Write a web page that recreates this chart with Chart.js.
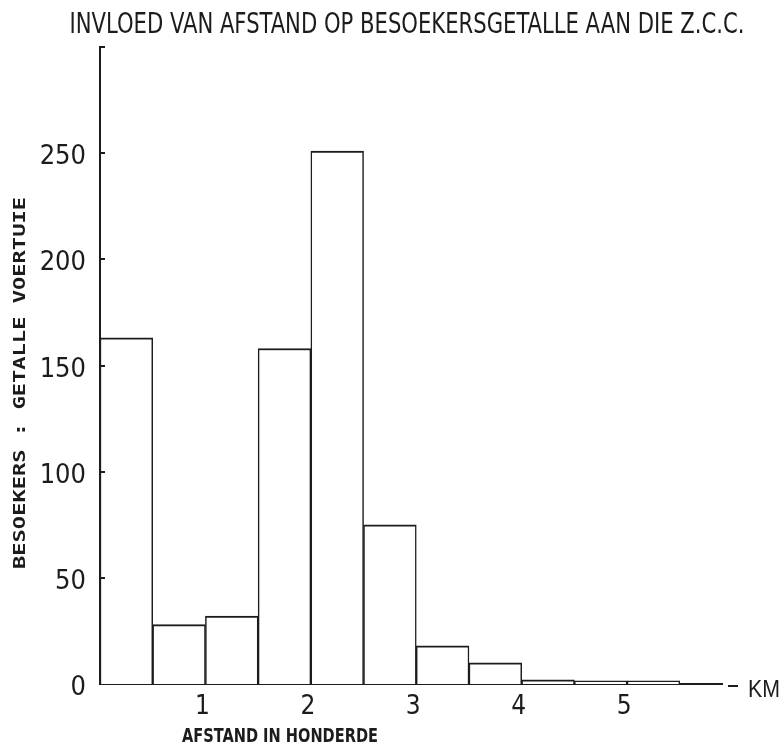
<!DOCTYPE html>
<html>
<head>
<meta charset="utf-8">
<script src="https://cdn.jsdelivr.net/npm/chart.js@4.4.1/dist/chart.umd.min.js"></script>
<style>
  html, body { margin: 0; padding: 0; background: #fff; }
  .chart-container { position: relative; width: 784px; height: 750px; }
</style>
</head>
<body>
<div class="chart-container">
  <canvas id="myChart" width="784" height="750"></canvas>
</div>
<script>
// --- DATA ---
var binStarts = [0, 0.5, 1, 1.5, 2, 2.5, 3, 3.5, 4, 4.5, 5];   // afstand, honderde km
var binWidth = 0.5;
var visitors = [163, 28, 32, 158, 251, 75, 18, 10, 2, 1.5, 1.5]; // getalle voertuie
var xTickValues = [1, 2, 3, 4, 5];
var yTickValues = [0, 50, 100, 150, 200, 250];

var titleText = 'INVLOED VAN AFSTAND OP BESOEKERSGETALLE AAN DIE Z.C.C.';
var yTitleText = 'BESOEKERS : GETALLE VOERTUIE';
var xTitleText = 'AFSTAND IN HONDERDE';
var unitText = 'KM';

var INK = '#1c1c1c';
var NARROW = "'Liberation Sans Narrow', 'DejaVu Sans Condensed', sans-serif";

// one point per bin, at the middle of the bin
var points = binStarts.map(function(x0, i) {
  return { x: x0 + binWidth / 2, y: visitors[i] };
});

// draws text squeezed/stretched to a given width
function fitText(ctx, text, font, cx, cy, width, rotate) {
  ctx.save();
  ctx.font = font;
  var w = ctx.measureText(text).width;
  ctx.translate(cx, cy);
  if (rotate) ctx.rotate(-Math.PI / 2);
  ctx.scale(width / w, 1);
  ctx.textAlign = 'center';
  ctx.textBaseline = 'alphabetic';
  ctx.fillText(text, 0, 0);
  ctx.restore();
}

// titles, inward ticks and the "- KM" unit
var paperPlugin = {
  id: 'paperPlugin',
  afterDraw: function(chart) {
    var ctx = chart.ctx;
    var yScale = chart.scales.y;
    var area = chart.chartArea;
    ctx.save();
    ctx.fillStyle = INK;
    ctx.strokeStyle = INK;

    // small tick marks pointing into the plot
    ctx.lineWidth = 2;
    yTickValues.concat([300]).forEach(function(v) {
      if (v === 0) return;
      var py = Math.round(yScale.getPixelForValue(v));
      ctx.beginPath();
      ctx.moveTo(area.left, py);
      ctx.lineTo(area.left + 5, py);
      ctx.stroke();
    });

    fitText(ctx, titleText, '29px ' + NARROW, 407, 33, 675, false);
    fitText(ctx, yTitleText, "bold 16px 'DejaVu Sans Mono', monospace", 25, 383, 372, true);
    fitText(ctx, xTitleText, 'bold 20px ' + NARROW, 280, 742, 196, false);

    // axis extension dash and unit
    ctx.lineWidth = 2;
    ctx.beginPath();
    ctx.moveTo(728, 686);
    ctx.lineTo(738, 686);
    ctx.stroke();
    fitText(ctx, unitText, "23px 'Liberation Sans', sans-serif", 764, 697, 32, false);
    ctx.restore();
  }
};

var ctx = document.getElementById('myChart').getContext('2d');
var chart = new Chart(ctx, {
  type: 'bar',
  data: {
    datasets: [{
      data: points,
      backgroundColor: '#ffffff',
      borderColor: INK,
      borderWidth: { top: 2, left: 1.5, right: 1.5, bottom: 0 },
      borderSkipped: false,
      barPercentage: 1,
      categoryPercentage: 1
    }]
  },
  options: {
    responsive: false,
    animation: false,
    devicePixelRatio: 1,
    layout: { padding: { top: 47, left: 20, right: 62, bottom: 20 } },
    plugins: {
      legend: { display: false },
      tooltip: { enabled: false },
      title: { display: false }
    },
    scales: {
      x: {
        type: 'linear',
        min: 0,
        max: 5.9,
        offset: false,
        grid: { display: false, offset: false },
        border: { display: true, color: INK, width: 2 },
        ticks: {
          stepSize: 1,
          padding: 0,
          labelOffset: -3,
          color: INK,
          font: { family: NARROW, size: 26 }
        },
        afterBuildTicks: function(scale) {
          scale.ticks = xTickValues.map(function(v) { return { value: v }; });
        },
        afterFit: function(scale) { scale.height = 46; }
      },
      y: {
        min: 0,
        max: 300,
        grid: { display: false },
        border: { display: true, color: INK, width: 2 },
        ticks: {
          stepSize: 50,
          padding: 6,
          labelOffset: 4,
          color: INK,
          font: { family: NARROW, size: 27 }
        },
        afterBuildTicks: function(scale) {
          scale.ticks = yTickValues.map(function(v) { return { value: v }; });
        },
        afterFit: function(scale) { scale.width = 80; }
      }
    }
  },
  plugins: [paperPlugin]
});
</script>
</body>
</html>
